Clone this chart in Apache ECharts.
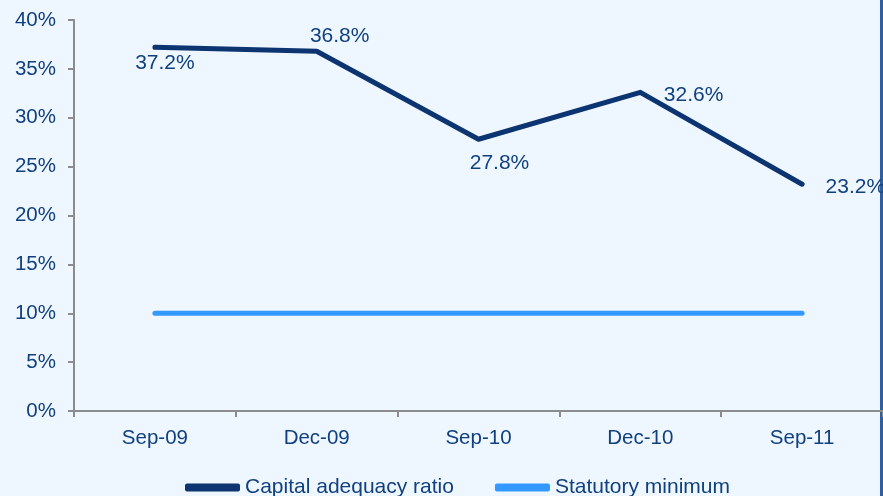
<!DOCTYPE html>
<html>
<head>
<meta charset="utf-8">
<script src="https://cdn.jsdelivr.net/npm/echarts@6/dist/echarts.min.js"></script>
<style>
  html, body { margin: 0; padding: 0; background: #eef6ff; }
  #chart { width: 883px; height: 496px; }
</style>
</head>
<body>
<div id="chart"></div>
<script>
const categories = ['Sep-09', 'Dec-09', 'Sep-10', 'Dec-10', 'Sep-11'];
const capitalRatio = [37.2, 36.8, 27.8, 32.6, 23.2];
const statutoryMin = [10, 10, 10, 10, 10];
// where each value label sits relative to its point
const labelPos = ['bottom', 'top', 'bottom', 'right', 'right'];
const labelDist = [4, 6, 14, 22, 22];
const labelShift = [[10, 0], [23, 3], [21, -2], [0, 3], [0, 3]];

const textColor = '#10407f';
const font = 'Liberation Sans, Arial, sans-serif';

const chart = echarts.init(document.getElementById('chart'));
chart.setOption({
  backgroundColor: '#eef6ff',
  animation: false,
  textStyle: { fontFamily: font },
  grid: { left: 74, top: 20, width: 810, height: 391 },
  legend: {
    left: 180, top: 472,
    itemWidth: 55, itemHeight: 8, itemGap: 41,
    textStyle: { fontSize: 21, color: textColor, fontFamily: font },
    data: [
      { name: 'Capital adequacy ratio', icon: 'roundRect', itemStyle: { color: '#0b3470' } },
      { name: 'Statutory minimum', icon: 'roundRect', itemStyle: { color: '#3399ff' } }
    ]
  },
  xAxis: {
    type: 'category',
    data: categories,
    boundaryGap: true,
    axisLine: { lineStyle: { color: '#8c8c8c', width: 2 } },
    axisTick: { show: true, length: 6, lineStyle: { color: '#8c8c8c', width: 2 } },
    axisLabel: { color: textColor, fontSize: 20.5, margin: 17, fontFamily: font }
  },
  yAxis: {
    type: 'value',
    min: 0, max: 40, interval: 5,
    axisLine: { show: true, lineStyle: { color: '#8c8c8c', width: 2 } },
    axisTick: { show: true, length: 6, lineStyle: { color: '#8c8c8c', width: 2 } },
    splitLine: { show: false },
    axisLabel: { color: textColor, fontSize: 20.5, margin: 18, formatter: '{value}%', fontFamily: font }
  },
  series: [
    {
      name: 'Capital adequacy ratio',
      type: 'line',
      data: capitalRatio.map((v, i) => ({
        value: v,
        label: { show: true, position: labelPos[i], distance: labelDist[i] }
      })),
      symbol: 'circle',
      symbolSize: 3,
      showSymbol: true,
      itemStyle: { color: '#0b3470' },
      lineStyle: { width: 5, color: '#0b3470', cap: 'round', join: 'round' },
      label: {
        show: true, fontSize: 21, color: textColor, fontFamily: font,
        formatter: p => p.value.toFixed(1) + '%'
      },
      labelLayout: p => ({
        dx: labelShift[p.dataIndex][0],
        dy: labelShift[p.dataIndex][1],
        hideOverlap: false
      })
    },
    {
      name: 'Statutory minimum',
      type: 'line',
      data: statutoryMin,
      symbol: 'none',
      itemStyle: { color: '#3399ff' },
      lineStyle: { width: 5, color: '#3399ff', cap: 'round' }
    }
  ],
  graphic: [
    { type: 'rect', shape: { x: 880, y: 0, width: 3, height: 496 }, style: { fill: '#2f5f9f' } }
  ]
});
</script>
</body>
</html>
